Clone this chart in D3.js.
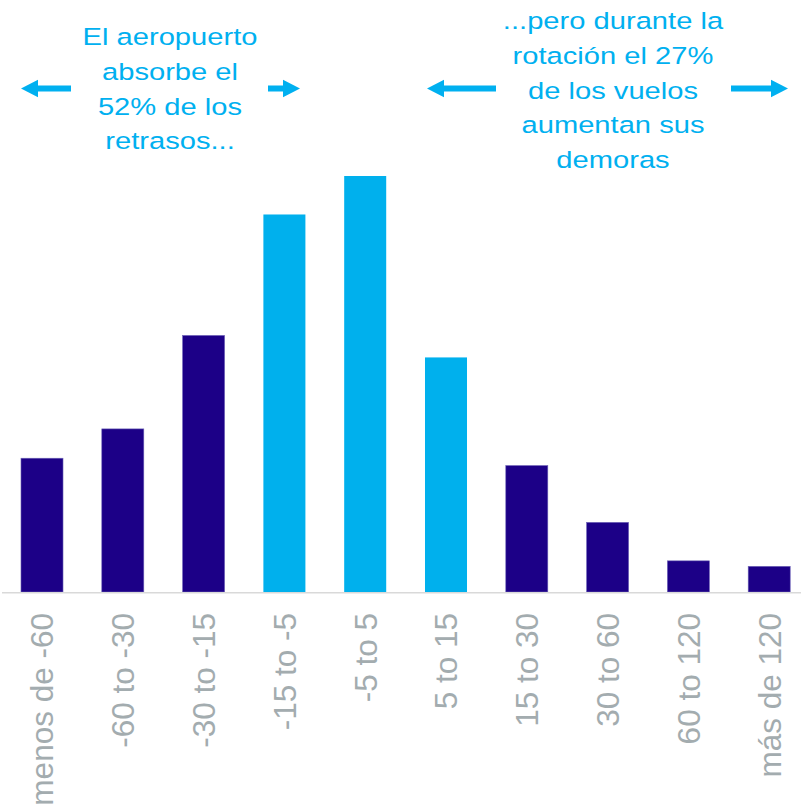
<!DOCTYPE html>
<html>
<head>
<meta charset="utf-8">
<script src="https://cdn.jsdelivr.net/npm/d3@7"></script>
<style>
  html, body { margin: 0; padding: 0; background: #fff; }
  svg { display: block; }
</style>
</head>
<body>
<svg id="chart" width="801" height="807"></svg>
<script>
// ---- data ----
const categories = ["menos de -60", "-60 to -30", "-30 to -15", "-15 to -5", "-5 to 5",
                    "5 to 15", "15 to 30", "30 to 60", "60 to 120", "más de 120"];
const values = [7.3, 8.9, 14.0, 20.6, 22.7, 12.8, 6.9, 3.8, 1.7, 1.4]; // % of flights
const highlighted = ["-15 to -5", "-5 to 5", "5 to 15"];
const leftNote = ["El aeropuerto", "absorbe el", "52% de los", "retrasos..."];
const rightNote = ["...pero durante la", "rotación el 27%", "de los vuelos", "aumentan sus", "demoras"];

// ---- layout ----
const W = 801, H = 807;
const baseY = 592;
const svg = d3.select("#chart");

const x = d3.scaleBand().domain(categories).range([1.6, 809.6])
  .paddingInner(0.48).paddingOuter(0.24);
const y = d3.scaleLinear().domain([0, 25]).range([baseY, 133.85]);

const dark = "#1c0087", light = "#00b0ed", noteColor = "#00b0f0";

// bars
svg.append("g").selectAll("rect").data(categories).join("rect")
  .attr("x", d => x(d))
  .attr("y", (d, i) => y(values[i]))
  .attr("width", x.bandwidth())
  .attr("height", (d, i) => y(0) - y(values[i]))
  .attr("fill", d => highlighted.includes(d) ? light : dark)
  .attr("stroke", d => highlighted.includes(d) ? "none" : "#6e63b8")
  .attr("stroke-width", 0.6);

// axis
const axis = svg.append("g").attr("transform", `translate(0,${baseY})`)
  .call(d3.axisBottom(x).tickSize(0));
axis.select(".domain").remove();
axis.selectAll("text")
  .attr("transform", "rotate(-90)")
  .attr("text-anchor", "end")
  .attr("x", -21)
  .attr("y", 0)
  .attr("dy", "0.36em")
  .style("font-family", "'Liberation Sans', Arial, sans-serif")
  .style("font-size", "31.5px")
  .attr("fill", "#a3acaf");

svg.append("line")
  .attr("x1", 2).attr("x2", W)
  .attr("y1", baseY + 0.7).attr("y2", baseY + 0.7)
  .attr("stroke", "#d9d9d9").attr("stroke-width", 1.5);

// annotations
function note(lines, cx, y0) {
  const g = svg.append("g")
    .attr("transform", `translate(${cx},0) scale(1.24,1)`);
  g.selectAll("text").data(lines).join("text")
    .attr("x", 0)
    .attr("y", (d, i) => y0 + i * 34.8)
    .attr("text-anchor", "middle")
    .style("font-family", "'Liberation Sans', Arial, sans-serif")
    .style("font-size", "23.5px")
    .attr("fill", noteColor)
    .text(d => d);
}
note(leftNote, 170, 45);
note(rightNote, 613, 29);

function arrow(x1, x2, yy) {
  // arrow from x1 (tail) to x2 (tip)
  const dir = x2 > x1 ? 1 : -1;
  const head = 17, half = 8.7, t = 3;
  const hb = x2 - dir * head;
  const p = d3.path();
  p.moveTo(x1, yy - t); p.lineTo(hb, yy - t); p.lineTo(hb, yy - half);
  p.lineTo(x2, yy); p.lineTo(hb, yy + half); p.lineTo(hb, yy + t);
  p.lineTo(x1, yy + t); p.closePath();
  svg.append("path").attr("d", p.toString()).attr("fill", noteColor);
}
arrow(71, 21, 88.5);
arrow(268, 300, 88.5);
arrow(496, 427, 88.5);
arrow(731, 788, 88.5);
</script>
</body>
</html>
